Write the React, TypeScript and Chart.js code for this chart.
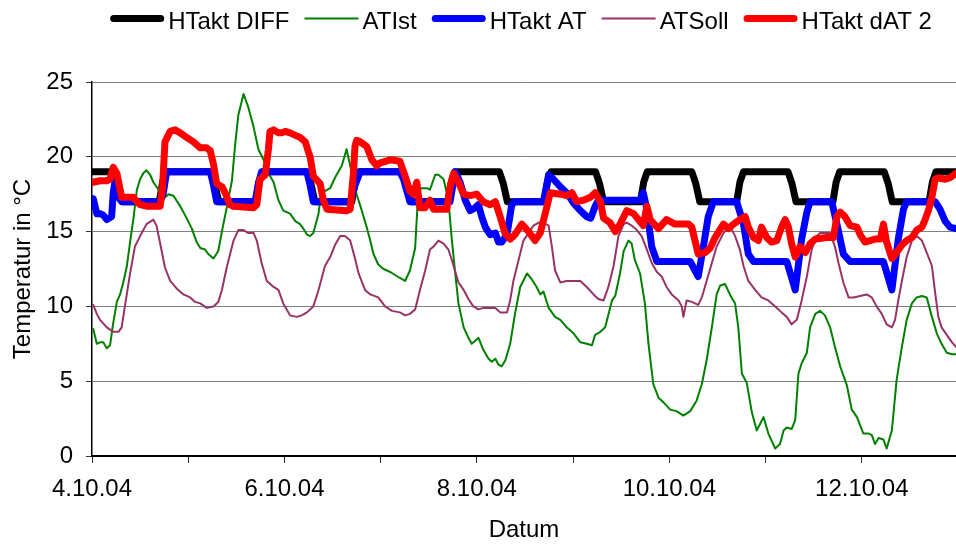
import React, { useEffect, useRef } from 'react';
import { Chart, registerables } from 'chart.js';

Chart.register(...registerables);

// x values: hours since 4.10.04 00:00
const seriesNames = ['HTakt DIFF', 'ATIst', 'HTakt AT', 'ATSoll', 'HTakt dAT 2'];
const startDay = 4;
const monthYear = '.10.04';
const xTickHours = [0, 24, 48, 72, 96, 120, 144, 168, 192];
const xLabelHours = [0, 48, 96, 144, 192];
const yTickValues = [0, 5, 10, 15, 20, 25];

const htaktDiff: number[][] = [
  [0, 19], [5.6, 19], [6.6, 18.2], [7.6, 17], [16.8, 17], [17.6, 18.3], [18.5, 19],
  [29.6, 19], [30.6, 18.2], [31.6, 17], [40.8, 17], [41.6, 18.3], [42.5, 19],
  [53.6, 19], [54.6, 18.2], [55.6, 17], [64.8, 17], [65.6, 18.3], [66.5, 19],
  [77.6, 19], [78.6, 18.2], [79.6, 17], [88.8, 17], [89.6, 18.3], [90.5, 19],
  [101.6, 19], [102.6, 18.2], [103.6, 17], [112.8, 17], [113.6, 18.3], [114.5, 19],
  [125.6, 19], [126.6, 18.2], [127.6, 17], [136.8, 17], [137.6, 18.3], [138.5, 19],
  [149.6, 19], [150.6, 18.2], [151.6, 17], [160.8, 17], [161.6, 18.3], [162.5, 19],
  [173.6, 19], [174.6, 18.2], [175.6, 17], [184.8, 17], [185.6, 18.3], [186.5, 19],
  [197.6, 19], [198.6, 18.2], [199.6, 17], [208.8, 17], [209.6, 18.3], [210.5, 19],
  [215.5, 19],
];

const atIst: number[][] = [
  [0.3, 8.5], [1.2, 7.5], [2.0, 7.6], [2.8, 7.6], [3.7, 7.2], [4.5, 7.4], [5.3, 8.9], [6.2, 10.3],
  [7.0, 10.8], [7.8, 11.6], [8.7, 12.7], [9.5, 14.3], [10.3, 15.8], [11.2, 17.8], [12.0, 18.5],
  [12.8, 18.9], [13.6, 19.1], [14.5, 18.8], [15.3, 18.3], [16.6, 17.8], [17.8, 17.2], [19.1, 17.5],
  [20.3, 17.4], [22.0, 16.7], [23.2, 16.1], [24.9, 15.2], [26.1, 14.3], [27.0, 13.9], [28.2, 13.8],
  [29.0, 13.5], [30.3, 13.2], [31.5, 13.7], [32.4, 15.0], [33.6, 16.6], [34.9, 18.4], [35.7, 20.8],
  [36.5, 22.8], [37.8, 24.2], [39.0, 23.3], [40.3, 22.0], [41.5, 20.5], [42.8, 19.8], [44.0, 18.9],
  [45.3, 18.3], [46.5, 17.1], [47.7, 16.4], [49.4, 16.2], [50.7, 15.7], [51.9, 15.5], [52.7, 15.2],
  [53.6, 14.8], [54.4, 14.7], [55.2, 14.9], [56.5, 16.2], [57.3, 17.9], [58.1, 17.7], [59.4, 17.9],
  [60.6, 18.6], [62.3, 19.4], [63.5, 20.5], [64.4, 19.4], [65.2, 18.4], [66.0, 17.5], [67.3, 16.4],
  [68.5, 15.3], [69.4, 14.4], [70.2, 13.5], [71.4, 12.8], [72.7, 12.5], [74.4, 12.3], [75.6, 12.1],
  [76.8, 11.9], [78.1, 11.7], [79.3, 12.4], [80.6, 13.9], [81.4, 17.8], [82.3, 17.9], [83.5, 17.9],
  [84.3, 17.8], [85.6, 18.8], [86.4, 18.8], [87.7, 18.5], [88.9, 17.1], [89.7, 14.6], [90.6, 12.2],
  [91.4, 10.2], [92.7, 8.6], [93.9, 7.9], [94.7, 7.5], [95.6, 7.7], [96.4, 7.9], [97.6, 7.1],
  [98.9, 6.5], [99.7, 6.3], [100.6, 6.5], [101.4, 6.1], [102.2, 6.0], [103.1, 6.4], [104.3, 7.5],
  [105.5, 9.5], [106.8, 11.3], [108.5, 12.2], [109.7, 11.8], [110.9, 11.3], [111.8, 10.8], [112.6, 11.0],
  [113.9, 9.9], [115.5, 9.3], [116.8, 9.1], [118.4, 8.6], [120.1, 8.2], [121.8, 7.6], [123.4, 7.5],
  [124.7, 7.4], [125.5, 8.1], [126.8, 8.3], [128.0, 8.6], [129.7, 10.4], [130.5, 10.7], [131.7, 12.2],
  [132.6, 13.7], [133.8, 14.4], [134.6, 14.2], [135.4, 13.1], [136.7, 12.2], [137.9, 10.2], [138.8, 7.5],
  [140.0, 4.8], [141.3, 3.9], [142.5, 3.6], [144.2, 3.1], [145.8, 3.0], [147.5, 2.7], [149.2, 3.0],
  [150.8, 3.7], [152.1, 4.8], [153.3, 6.4], [154.6, 8.6], [155.8, 10.8], [156.7, 11.4], [157.9, 11.5],
  [159.1, 10.8], [160.4, 10.2], [161.2, 8.6], [162.1, 5.5], [163.3, 4.9], [164.6, 2.9], [165.8, 1.7],
  [167.5, 2.6], [168.7, 1.5], [170.4, 0.5], [171.6, 0.8], [172.5, 1.7], [173.3, 1.9], [174.5, 1.8],
  [175.4, 2.4], [176.2, 5.5], [177.0, 6.2], [178.3, 6.9], [179.1, 8.6], [180.4, 9.5], [181.6, 9.7],
  [182.8, 9.4], [184.1, 8.6], [185.3, 7.3], [186.6, 6.0], [188.3, 4.7], [189.5, 3.1], [190.8, 2.6],
  [192.4, 1.5], [193.7, 1.5], [194.5, 1.4], [195.3, 0.8], [196.2, 1.2], [197.4, 1.1], [198.2, 0.5],
  [199.5, 1.7], [200.7, 5.1], [202.0, 7.3], [203.2, 9.1], [204.5, 10.2], [205.7, 10.6], [207.0, 10.7],
  [208.2, 10.6], [209.5, 9.3], [210.7, 8.2], [211.9, 7.5], [213.2, 6.9], [214.5, 6.8], [215.5, 6.8],
];

const htaktAt: number[][] = [
  [0.3, 17.2], [1.2, 16.2], [2.0, 16.2], [2.8, 16.1], [3.7, 15.8], [4.9, 16.0], [5.3, 17.6], [5.7, 18.3],
  [6.6, 17.3], [7.4, 17.0], [17.0, 17.0], [17.8, 17.6], [18.6, 19], [29.5, 19], [30.3, 18.1], [31.1, 17],
  [40.7, 17], [41.5, 18.2], [42.3, 19], [53.6, 19], [54.4, 18.1], [55.2, 17], [64.4, 17], [65.6, 18.1],
  [66.9, 19], [76.8, 19], [77.7, 18.5], [79.3, 17], [89.3, 17], [90.6, 19], [91.8, 18.3], [93.1, 17.1],
  [94.3, 16.4], [95.6, 16.6], [96.4, 16.8], [97.2, 16.0], [98.1, 15.3], [99.3, 14.8], [100.6, 14.9],
  [101.4, 14.3], [102.2, 14.3], [103.5, 14.8], [104.7, 16.8], [105.5, 17.0], [112.6, 17], [113.9, 18.8],
  [115.1, 18.5], [116.8, 18.0], [118.4, 17.6], [120.1, 16.9], [121.8, 16.4], [123.4, 16.0], [124.4, 15.9],
  [125.5, 16.7], [126.3, 17.1], [131.7, 17.1], [136.7, 17.1], [137.5, 17.6], [138.4, 16.5], [139.6, 14.0],
  [140.9, 13], [149.2, 13], [151.2, 12], [152.5, 14], [153.7, 16], [155.0, 17], [160.8, 17], [162.5, 15.5],
  [163.7, 13.5], [165.0, 13], [173.3, 13], [175.4, 11.1], [177.0, 14.5], [178.3, 16.3], [179.1, 17],
  [184.5, 17], [185.8, 15.5], [187.4, 13.5], [189.1, 13], [197.4, 13], [199.5, 11.1], [201.1, 14.5],
  [202.4, 16.5], [203.2, 17], [210.3, 17], [211.5, 16.5], [212.8, 15.7], [214.0, 15.3], [215.5, 15.2],
];

const atSoll: number[][] = [
  [0.3, 10.1], [1.2, 9.5], [2.0, 9.1], [3.7, 8.6], [5.3, 8.3], [6.6, 8.3], [7.4, 8.6], [8.2, 10.0],
  [9.5, 12.2], [10.7, 14.0], [12.0, 14.7], [13.6, 15.5], [15.3, 15.8], [16.1, 15.4], [17.0, 14.2],
  [18.2, 12.6], [19.5, 11.7], [21.1, 11.2], [22.8, 10.8], [24.5, 10.6], [25.7, 10.3], [27.0, 10.2],
  [28.6, 9.9], [30.3, 10.0], [31.5, 10.3], [32.4, 11.1], [33.6, 12.6], [35.3, 14.4], [36.5, 15.1],
  [37.8, 15.1], [39.0, 14.9], [40.3, 14.9], [41.1, 14.4], [42.3, 12.9], [43.6, 11.7], [45.3, 11.3],
  [46.5, 11.1], [47.7, 10.2], [49.4, 9.4], [51.1, 9.3], [52.3, 9.4], [53.6, 9.6], [55.2, 10.0],
  [56.5, 11.1], [58.1, 12.7], [59.4, 13.3], [60.6, 14.1], [61.9, 14.7], [63.1, 14.7], [64.4, 14.4],
  [65.6, 13.2], [66.5, 12.2], [68.1, 11.1], [69.4, 10.8], [71.4, 10.6], [73.1, 10.0], [74.8, 9.7],
  [76.8, 9.6], [78.1, 9.4], [79.3, 9.5], [80.6, 9.8], [81.8, 11.1], [83.1, 12.4], [84.3, 13.8],
  [85.2, 14.0], [86.4, 14.4], [87.7, 14.2], [88.9, 13.8], [90.2, 12.7], [91.4, 11.6], [92.7, 11.1],
  [93.9, 10.5], [95.1, 10.0], [96.4, 9.8], [97.6, 9.9], [99.3, 9.9], [100.6, 9.9], [101.8, 9.6],
  [103.5, 9.6], [104.3, 10.4], [105.1, 11.7], [106.4, 13.1], [107.6, 14.4], [108.9, 14.9], [110.1, 15.4],
  [111.4, 15.6], [112.6, 15.6], [113.9, 15.4], [114.7, 14.0], [115.5, 12.4], [116.8, 11.6], [118.4, 11.7],
  [120.1, 11.7], [121.8, 11.7], [123.4, 11.3], [125.1, 10.8], [126.3, 10.5], [127.6, 10.4], [128.8, 11.3],
  [130.1, 12.7], [131.3, 14.7], [132.6, 15.5], [133.4, 15.6], [134.6, 15.4], [135.9, 15.1], [137.1, 14.7],
  [138.4, 13.8], [139.6, 12.9], [140.9, 12.3], [142.1, 12.0], [143.3, 11.3], [144.6, 10.8], [146.3, 10.4],
  [147.1, 10.0], [147.5, 9.3], [148.3, 10.4], [149.6, 10.3], [151.2, 10.1], [152.1, 10.6], [153.3, 11.7],
  [154.6, 12.9], [155.8, 14.0], [157.5, 14.9], [159.1, 15.4], [160.4, 14.7], [161.6, 13.8], [162.5, 12.7],
  [163.7, 11.7], [165.4, 11.1], [167.0, 10.6], [168.7, 10.4], [170.4, 10.0], [172.0, 9.6], [173.3, 9.3],
  [174.5, 8.8], [175.8, 9.1], [177.0, 10.4], [178.3, 12.0], [179.5, 13.8], [180.8, 14.7], [181.6, 14.9],
  [184.1, 14.9], [185.3, 14.0], [186.2, 12.9], [187.4, 11.6], [188.7, 10.6], [189.9, 10.6], [191.6, 10.7],
  [193.2, 10.8], [194.5, 10.6], [195.7, 10.0], [197.0, 9.5], [198.2, 8.8], [199.5, 8.6], [200.3, 9.1],
  [201.1, 10.4], [202.0, 11.7], [203.2, 13.3], [204.5, 14.4], [205.7, 14.7], [207.0, 14.4], [208.2, 13.6],
  [209.5, 12.7], [210.3, 10.9], [211.1, 9.3], [211.9, 8.6], [213.2, 8.1], [214.5, 7.6], [215.5, 7.3],
];

const htaktDat2: number[][] = [
  [0.3, 18.3], [2.0, 18.4], [3.7, 18.4], [4.5, 18.5], [5.3, 19.3], [6.2, 18.9], [7.0, 17.8], [7.4, 17.3],
  [10.3, 17.3], [11.2, 17.0], [12.0, 16.8], [13.6, 16.7], [17.0, 16.7], [17.6, 18.0], [18.2, 21.0],
  [19.5, 21.7], [20.7, 21.8], [22.0, 21.6], [23.6, 21.3], [25.3, 21.0], [27.0, 20.6], [28.6, 20.6],
  [29.5, 20.4], [30.3, 19.5], [31.1, 18.2], [32.4, 18.0], [33.2, 17.6], [34.4, 16.8], [35.3, 16.7],
  [40.3, 16.6], [41.1, 16.8], [41.9, 18.5], [43.2, 18.8], [44.0, 20.5], [44.4, 21.7], [45.3, 21.8],
  [46.5, 21.6], [47.3, 21.6], [48.2, 21.7], [49.4, 21.6], [50.2, 21.5], [51.9, 21.3], [53.2, 21.0],
  [54.0, 20.3], [54.4, 20.0], [55.2, 18.7], [56.9, 18.2], [57.7, 17.1], [58.6, 16.5], [63.5, 16.4],
  [64.4, 16.5], [65.2, 18.9], [65.6, 20.7], [66.0, 21.1], [66.9, 21.0], [68.5, 20.7], [69.8, 19.8],
  [71.0, 19.4], [71.9, 19.6], [74.4, 19.8], [76.8, 19.7], [78.1, 18.7], [79.3, 17.7], [80.2, 17.5],
  [81.0, 18.3], [81.8, 16.6], [83.1, 16.6], [84.3, 17.1], [85.2, 16.5], [88.5, 16.5], [89.3, 18.0],
  [90.2, 18.9], [91.4, 18.3], [92.7, 17.5], [94.3, 17.4], [96.0, 17.5], [97.6, 17.0], [99.3, 16.8],
  [100.6, 17.0], [101.8, 16.0], [103.0, 14.9], [104.3, 14.5], [105.5, 14.8], [107.2, 15.5], [108.9, 15.0],
  [110.5, 14.4], [111.8, 14.9], [113.4, 16.6], [114.3, 17.6], [116.8, 17.5], [118.4, 17.4], [119.7, 17.6],
  [120.9, 17.0], [122.6, 17.1], [124.3, 17.3], [125.5, 17.6], [126.8, 17.0], [127.6, 15.9], [129.2, 15.6],
  [130.5, 15.0], [131.7, 15.5], [133.4, 16.4], [135.1, 16.2], [136.3, 15.8], [137.5, 15.4], [138.4, 16.7],
  [139.2, 15.8], [141.3, 15.2], [143.3, 15.8], [145.4, 15.5], [148.8, 15.5], [149.6, 15.3], [150.4, 14.4],
  [151.2, 13.5], [152.9, 13.6], [154.2, 13.9], [155.4, 14.6], [157.5, 15.5], [158.7, 15.2], [160.0, 15.5],
  [161.6, 15.8], [162.9, 16.0], [163.7, 15.3], [165.0, 14.6], [166.2, 14.4], [167.0, 15.3], [168.3, 14.6],
  [169.5, 14.3], [170.8, 14.4], [172.0, 15.3], [172.9, 15.8], [173.7, 15.3], [174.5, 14.2], [175.4, 13.3],
  [176.6, 14.0], [177.9, 13.6], [179.1, 14.2], [180.4, 14.5], [183.3, 14.6], [184.9, 14.6], [185.8, 16.0],
  [186.6, 16.3], [187.8, 16.0], [189.1, 15.4], [190.8, 15.3], [191.6, 14.8], [192.8, 14.3], [195.3, 14.5],
  [196.6, 14.5], [197.4, 15.5], [198.2, 14.3], [199.5, 13.2], [200.7, 13.6], [202.0, 14.1], [203.2, 14.4],
  [204.5, 14.6], [205.7, 15.1], [207.0, 15.3], [207.8, 15.8], [208.6, 16.4], [209.5, 17.3], [210.3, 18.5],
  [211.1, 18.6], [212.8, 18.5], [214.0, 18.6], [215.5, 18.9],
];

const FONT = '"Liberation Sans", Arial, sans-serif';

const toPoints = (rows: number[][]) => rows.map(([x, y]) => ({ x, y }));

const excelLegend = {
  id: 'excelLegend',
  afterDraw(chart: any) {
    const ctx = chart.ctx as CanvasRenderingContext2D;
    const sets = chart.data.datasets as any[];
    const lineLen = 54;
    const textGap = 4;
    const itemGap = 15;
    ctx.save();
    ctx.font = `24px ${FONT}`;
    const widths = sets.map((d) => lineLen + textGap + ctx.measureText(d.label).width);
    const total = widths.reduce((a, b) => a + b, 0) + itemGap * (sets.length - 1);
    const center = (chart.chartArea.left + chart.chartArea.right) / 2 - 3;
    let x = center - total / 2;
    const lineY = 18.5;
    const baseY = 28.5;
    sets.forEach((d, i) => {
      const w = d.borderWidth as number;
      ctx.beginPath();
      ctx.strokeStyle = d.borderColor;
      ctx.lineWidth = w;
      if (w > 3) {
        ctx.lineCap = 'round';
        ctx.moveTo(x + w / 2, lineY);
        ctx.lineTo(x + lineLen - w / 2, lineY);
      } else {
        ctx.lineCap = 'butt';
        ctx.moveTo(x, lineY);
        ctx.lineTo(x + lineLen, lineY);
      }
      ctx.stroke();
      ctx.fillStyle = '#000';
      ctx.textBaseline = 'alphabetic';
      ctx.textAlign = 'left';
      ctx.fillText(d.label, x + lineLen + textGap, baseY);
      x += widths[i] + itemGap;
    });
    ctx.restore();
  },
};

export default function App() {
  const canvasRef = useRef<HTMLCanvasElement | null>(null);

  useEffect(() => {
    if (!canvasRef.current) return;
    const common = {
      pointRadius: 0,
      pointHoverRadius: 0,
      tension: 0,
      fill: false,
      borderJoinStyle: 'round' as const,
      borderCapStyle: 'round' as const,
    };
    const chart = new Chart(canvasRef.current, {
      type: 'line',
      data: {
        datasets: [
          { ...common, label: seriesNames[0], data: toPoints(htaktDiff), borderColor: '#000000', borderWidth: 7, order: 5 },
          { ...common, label: seriesNames[1], data: toPoints(atIst), borderColor: '#008000', borderWidth: 2, order: 4 },
          { ...common, label: seriesNames[2], data: toPoints(htaktAt), borderColor: '#0000FF', borderWidth: 7, order: 3 },
          { ...common, label: seriesNames[3], data: toPoints(atSoll), borderColor: '#993366', borderWidth: 2, order: 2 },
          { ...common, label: seriesNames[4], data: toPoints(htaktDat2), borderColor: '#FF0000', borderWidth: 7, order: 1 },
        ],
      },
      options: {
        responsive: false,
        animation: false,
        events: [],
        layout: { padding: { top: 82, left: 0, right: 0, bottom: 0 } },
        plugins: {
          legend: { display: false },
          tooltip: { enabled: false },
          title: { display: false },
        },
        scales: {
          x: {
            type: 'linear',
            min: 0,
            max: 215.5,
            afterBuildTicks: (s: any) => { s.ticks = xTickHours.map((value) => ({ value })); },
            afterFit: (s: any) => { s.height = 89; s.paddingRight = 0; },
            border: { color: '#000000', width: 2 },
            grid: { drawOnChartArea: false, drawTicks: true, tickLength: 7, tickColor: '#333333', lineWidth: 1 },
            ticks: {
              autoSkip: false,
              maxRotation: 0,
              minRotation: 0,
              padding: 12,
              color: '#000000',
              font: { family: FONT, size: 24 },
              callback: (v: any) => (xLabelHours.includes(Number(v)) ? `${startDay + Number(v) / 24}${monthYear}` : ''),
            },
            title: {
              display: true,
              text: 'Datum',
              color: '#000000',
              font: { family: FONT, size: 24 },
              padding: { top: 0, bottom: 0 },
            },
          },
          y: {
            type: 'linear',
            min: yTickValues[0],
            max: yTickValues[yTickValues.length - 1],
            afterBuildTicks: (s: any) => { s.ticks = yTickValues.map((value) => ({ value })); },
            afterFit: (s: any) => { s.width = 92; },
            border: { color: '#000000', width: 1.5 },
            grid: { color: '#808080', lineWidth: 1, tickLength: 6, tickColor: '#333333' },
            ticks: {
              padding: 13,
              color: '#000000',
              font: { family: FONT, size: 24 },
            },
            title: {
              display: true,
              text: 'Temperatur in °C',
              color: '#000000',
              font: { family: FONT, size: 24 },
              padding: { top: 9, bottom: 0 },
            },
          },
        },
      },
      plugins: [excelLegend],
    });
    return () => chart.destroy();
  }, []);

  return (
    <div style={{ position: 'absolute', left: 0, top: 0, width: 956, height: 545, background: '#ffffff' }}>
      <canvas ref={canvasRef} width={956} height={545} style={{ display: 'block' }} />
    </div>
  );
}
